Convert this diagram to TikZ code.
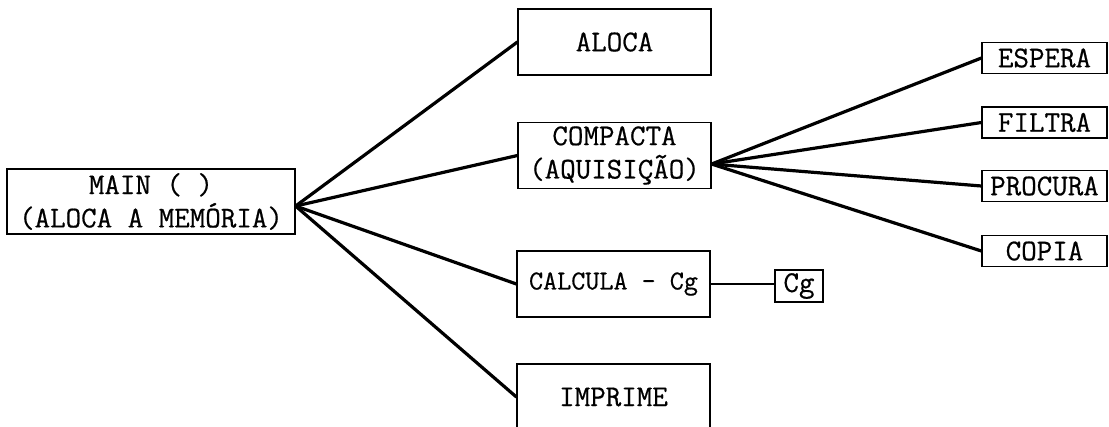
\documentclass[tikz,border=0pt]{standalone}
\usepackage{fontspec}
\setmonofont{Latin Modern Mono}[FakeBold=0.6]
\usepackage{tikz}
\usetikzlibrary{positioning}

\tikzset{
  rotina/.style={draw, line width=0.9pt, inner sep=0pt, align=center,
    font=\ttfamily\fontsize{22.6}{25}\selectfont, minimum width=144.75pt, minimum height=49.5pt},
  folha/.style={rotina, minimum width=93.75pt, minimum height=23.25pt},
  ligacao/.style={line width=2.4pt, line cap=round}
}

\begin{document}
\begin{tikzpicture}[x=0.75pt,y=0.75pt,yscale=-1,xscale=1]
\useasboundingbox (0,0) rectangle (1109,426);

%Shape: Rectangle [main]
\node[rotina, minimum width=216pt, minimum height=48.75pt] (main) at (151,201.5) {MAIN ( )\\(ALOCA A MEMÓRIA)};

%Shape: Rectangle [segundo nivel]
\node[rotina] (aloca) at (614.5,42) {ALOCA};
\node[rotina] (compacta) at (614.5,155.5) {COMPACTA\\(AQUISIÇÃO)};
\node[rotina, font=\ttfamily\fontsize{20.5}{24}\selectfont] (calcula) at (613.5,284) {CALCULA - Cg};
\node[rotina] (imprime) at (613.5,397) {IMPRIME};

%Shape: Rectangle [terceiro nivel]
\node[folha] (espera) at (1044.5,58) {ESPERA};
\node[folha] (filtra) at (1044.5,122.5) {FILTRA};
\node[folha] (procura) at (1044.5,186) {PROCURA};
\node[folha] (copia) at (1044.5,251) {COPIA};
\node[folha, minimum width=36pt, minimum height=24pt] (cg) at (799,286) {Cg};

%Straight Lines
\coordinate (mainout) at ([yshift=3.4pt]main.east);
\coordinate (compout) at ([yshift=6.4pt]compacta.east);
\draw[ligacao] (mainout) -- (aloca.west);
\draw[ligacao] (mainout) -- (compacta.west);
\draw[ligacao] (mainout) -- (calcula.west);
\draw[ligacao] (mainout) -- (imprime.west);

\draw[ligacao] (compout) -- (espera.west);
\draw[ligacao] (compout) -- (filtra.west);
\draw[ligacao] (compout) -- (procura.west);
\draw[ligacao] (compout) -- (copia.west);

\draw[line width=1.6pt] (calcula.east) -- (calcula.east -| cg.west);

\end{tikzpicture}
\end{document}
